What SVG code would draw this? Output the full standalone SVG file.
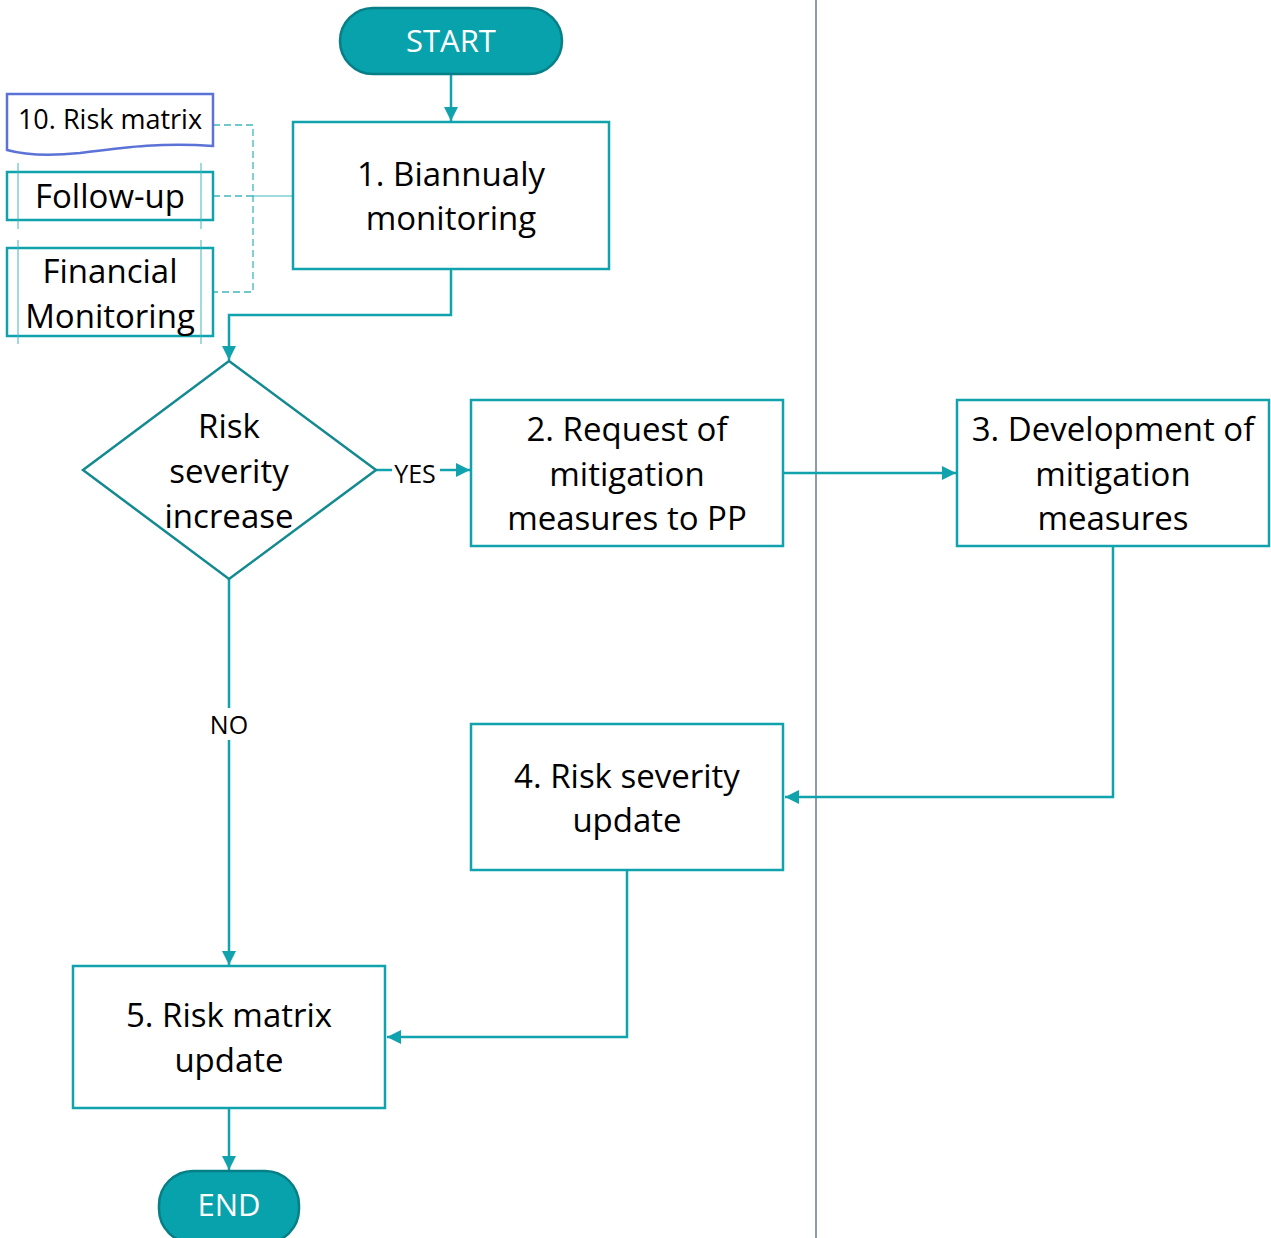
<svg xmlns="http://www.w3.org/2000/svg" width="1271" height="1238" viewBox="0 0 1271 1238">
  <defs>
    <marker id="arrow" viewBox="0 0 10 10" refX="10" refY="5" markerWidth="14" markerHeight="14" markerUnits="userSpaceOnUse" orient="auto">
      <path d="M0,0 L10,5 L0,10 z" fill="#10A3AD"/>
    </marker>
    <style>
      .box { fill: #fff; stroke: #10A3AD; stroke-width: 2.5; }
      .term { fill: #08A2AC; stroke: #067F86; stroke-width: 2.5; }
      .diamond { fill: #fff; stroke: #138A90; stroke-width: 2.5; }
      .doc { fill: #fff; stroke: #5B73D6; stroke-width: 2.5; }
      .flow { fill: none; stroke: #10A3AD; stroke-width: 2.5; }
      .dash { fill: none; stroke: #3FB6BE; stroke-width: 1.3; stroke-dasharray: 7 4; }
      .thin { fill: none; stroke: #3FB6BE; stroke-width: 1; }
      .t { font-family: "Open Sans", "Liberation Sans", sans-serif; font-size: 33px; fill: #000; text-anchor: middle; }
      .tw { font-family: "Open Sans", "Liberation Sans", sans-serif; font-size: 31px; fill: #fff; text-anchor: middle; }
      .lbl { font-family: "Open Sans", "Liberation Sans", sans-serif; font-size: 25px; fill: #000; text-anchor: middle; }
    </style>
  </defs>

  <!-- lane divider -->
  <line x1="816" y1="0" x2="816" y2="1238" stroke="#8A9BB0" stroke-width="2"/>

  <g id="connectors">
    <line class="flow" x1="451" y1="74" x2="451" y2="121" marker-end="url(#arrow)"/>
    <polyline class="flow" points="451,269 451,315 229,315 229,360" marker-end="url(#arrow)"/>
    <line class="flow" x1="376" y1="470" x2="392" y2="470"/>
    <line class="flow" x1="440" y1="470" x2="470" y2="470" marker-end="url(#arrow)"/>
    <line class="flow" x1="783" y1="473" x2="956" y2="473" marker-end="url(#arrow)"/>
    <polyline class="flow" points="1113,546 1113,797 785,797" marker-end="url(#arrow)"/>
    <polyline class="flow" points="627,870 627,1037 387,1037" marker-end="url(#arrow)"/>
    <line class="flow" x1="229" y1="579" x2="229" y2="965" marker-end="url(#arrow)"/>
    <line class="flow" x1="229" y1="1108" x2="229" y2="1170" marker-end="url(#arrow)"/>
    <!-- links from supporting inputs -->
    <polyline class="dash" points="213,125 253,125 253,292 213,292"/>
    <line class="dash" x1="213" y1="196" x2="253" y2="196"/>
    <line class="thin" x1="253" y1="196" x2="293" y2="196"/>
    <!-- branch labels -->
    <text class="lbl" x="415" y="483">YES</text>
    <rect x="203" y="708" width="52" height="32" fill="#fff"/>
    <text class="lbl" x="229" y="734">NO</text>
  </g>

  <g id="start">
    <rect class="term" x="340" y="8" width="222" height="66" rx="33"/>
    <text class="tw" x="451" y="52">START</text>
  </g>

  <g id="step1">
    <rect class="box" x="293" y="122" width="316" height="147"/>
    <text class="t" x="451" y="186">1. Biannualy</text>
    <text class="t" x="451" y="230">monitoring</text>
  </g>

  <g id="risk-matrix-doc">
    <path class="doc" d="M7,94 H213 V146 C160,142 120,148 80,153 C50,156 25,155 7,150 Z"/>
    <text class="lbl" x="110" y="129" style="font-size:27px">10. Risk matrix</text>
  </g>

  <g id="follow-up">
    <rect class="box" x="7" y="172" width="206" height="48"/>
    <line class="thin" x1="18" y1="163" x2="18" y2="229"/>
    <line class="thin" x1="201" y1="163" x2="201" y2="229"/>
    <text class="t" x="110" y="208">Follow-up</text>
  </g>

  <g id="financial-monitoring">
    <rect class="box" x="7" y="248" width="206" height="88"/>
    <line class="thin" x1="18" y1="240" x2="18" y2="344"/>
    <line class="thin" x1="201" y1="240" x2="201" y2="344"/>
    <text class="t" x="110" y="283">Financial</text>
    <text class="t" x="110" y="328">Monitoring</text>
  </g>

  <g id="decision">
    <polygon class="diamond" points="229,361 376,470 229,579 83,470"/>
    <text class="t" x="229" y="438">Risk</text>
    <text class="t" x="229" y="483">severity</text>
    <text class="t" x="229" y="528">increase</text>
  </g>

  <g id="step2">
    <rect class="box" x="471" y="400" width="312" height="146"/>
    <text class="t" x="627" y="441">2. Request of</text>
    <text class="t" x="627" y="486">mitigation</text>
    <text class="t" x="627" y="530">measures to PP</text>
  </g>

  <g id="step3">
    <rect class="box" x="957" y="400" width="312" height="146"/>
    <text class="t" x="1113" y="441">3. Development of</text>
    <text class="t" x="1113" y="486">mitigation</text>
    <text class="t" x="1113" y="530">measures</text>
  </g>

  <g id="step4">
    <rect class="box" x="471" y="724" width="312" height="146"/>
    <text class="t" x="627" y="788">4. Risk severity</text>
    <text class="t" x="627" y="832">update</text>
  </g>

  <g id="step5">
    <rect class="box" x="73" y="966" width="312" height="142"/>
    <text class="t" x="229" y="1027">5. Risk matrix</text>
    <text class="t" x="229" y="1072">update</text>
  </g>

  <g id="end">
    <rect class="term" x="159" y="1171" width="140" height="72" rx="34"/>
    <text class="tw" x="229" y="1216">END</text>
  </g>
</svg>
